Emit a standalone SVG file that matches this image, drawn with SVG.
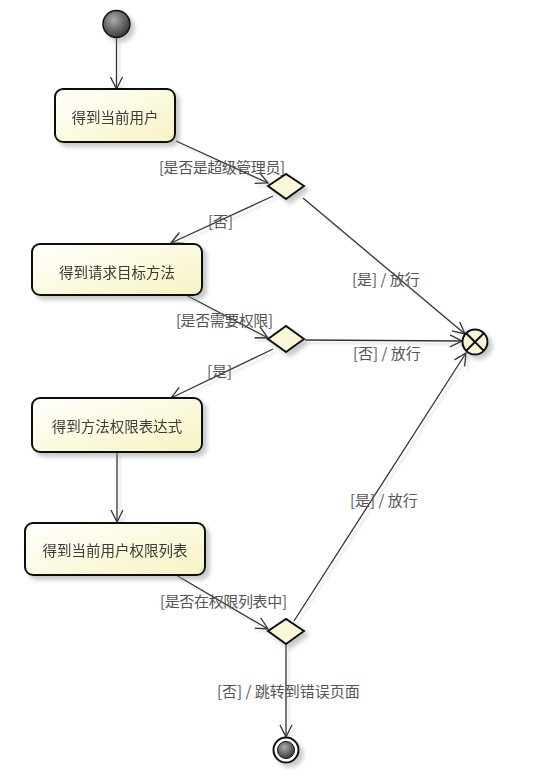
<svg xmlns="http://www.w3.org/2000/svg" width="549" height="779" viewBox="0 0 549 779">
<style>
.box{fill:url(#yel);stroke:#111;stroke-width:2;}
.dia{fill:#f9f7d8;stroke:#111;stroke-width:2;}
.ntxt{font-family:"Noto Sans CJK SC","Noto Sans",sans-serif;font-size:14.5px;fill:#3a3a3a;text-anchor:middle;dominant-baseline:central;}
.lbl{font-family:"Noto Sans CJK SC","Noto Sans",sans-serif;font-size:15px;fill:#555;}
.edge{fill:none;stroke:#333;stroke-width:1.3;marker-end:url(#arr);}
</style>
<defs>
<linearGradient id="yel" x1="0" y1="0" x2="1" y2="1">
<stop offset="0" stop-color="#ffffff"/>
<stop offset="0.5" stop-color="#fcfae0"/>
<stop offset="1" stop-color="#f6f2c2"/>
</linearGradient>
<radialGradient id="gray" cx="0.4" cy="0.35" r="0.7">
<stop offset="0" stop-color="#aaaaaa"/>
<stop offset="1" stop-color="#333333"/>
</radialGradient>
<filter id="sh" x="-20%" y="-20%" width="150%" height="150%">
<feDropShadow dx="4" dy="4" stdDeviation="2" flood-color="#888" flood-opacity="0.45"/>
</filter>
<filter id="lsh" x="-10%" y="-10%" width="130%" height="130%">
<feDropShadow dx="3" dy="3" stdDeviation="1.2" flood-color="#999" flood-opacity="0.35"/>
</filter>
<marker id="arr" viewBox="0 0 14 14" refX="13" refY="7" markerWidth="14" markerHeight="14" orient="auto" markerUnits="userSpaceOnUse">
<path d="M1,1 L13,7 L1,13" fill="none" stroke="#333" stroke-width="1.3"/>
</marker>
</defs>
<rect width="549" height="779" fill="#ffffff"/>

<g id="connectors">
<g filter="url(#lsh)">
<line class="edge" x1="116.5" y1="38" x2="116.5" y2="89"/>
<line class="edge" x1="176" y1="141" x2="268" y2="183"/>
<line class="edge" x1="273" y1="196" x2="171" y2="243"/>
<line class="edge" x1="303" y1="198" x2="465" y2="334"/>
<line class="edge" x1="186" y1="295" x2="268" y2="338"/>
<line class="edge" x1="273" y1="349" x2="171" y2="398"/>
<line class="edge" x1="305" y1="340" x2="462" y2="341"/>
<line class="edge" x1="117" y1="452" x2="117" y2="522"/>
<line class="edge" x1="176" y1="575" x2="268" y2="629"/>
<line class="edge" x1="294" y1="621" x2="466" y2="353"/>
<line class="edge" x1="286" y1="644" x2="286" y2="737"/>
</g>
<text class="lbl" x="159" y="173" textLength="126">[是否是超级管理员]</text>
<text class="lbl" x="208" y="227">[否]</text>
<text class="lbl" x="352" y="285">[是] / 放行</text>
<text class="lbl" x="176" y="326" textLength="97">[是否需要权限]</text>
<text class="lbl" x="353" y="359">[否] / 放行</text>
<text class="lbl" x="207" y="377">[是]</text>
<text class="lbl" x="350" y="506">[是] / 放行</text>
<text class="lbl" x="160" y="607" textLength="127">[是否在权限列表中]</text>
<text class="lbl" x="217" y="697">[否] / 跳转到错误页面</text>
</g>

<g id="start" filter="url(#sh)">
<circle cx="116.5" cy="24" r="13.5" fill="url(#gray)" stroke="#111" stroke-width="1.5"/>
</g>

<g id="node1" filter="url(#sh)">
<rect class="box" x="55" y="89" width="120" height="53" rx="8"/>
<text class="ntxt" x="115" y="116">得到当前用户</text>
</g>

<g id="decision1" filter="url(#sh)">
<polygon class="dia" points="268,186 286,174 304,186 286,199"/>
</g>

<g id="node2" filter="url(#sh)">
<rect class="box" x="32" y="244" width="170" height="51" rx="8"/>
<text class="ntxt" x="117" y="271">得到请求目标方法</text>
</g>

<g id="decision2" filter="url(#sh)">
<polygon class="dia" points="268,339 286,326 304,339 286,352"/>
</g>

<g id="node3" filter="url(#sh)">
<rect class="box" x="32" y="398" width="170" height="54" rx="8"/>
<text class="ntxt" x="117" y="425">得到方法权限表达式</text>
</g>

<g id="node4" filter="url(#sh)">
<rect class="box" x="25" y="523" width="180" height="52" rx="8"/>
<text class="ntxt" x="115" y="549">得到当前用户权限列表</text>
</g>

<g id="decision3" filter="url(#sh)">
<polygon class="dia" points="268,631 286,619 304,631 286,644"/>
</g>

<g id="merge" filter="url(#sh)">
<circle cx="475" cy="342" r="12.5" fill="#f9f7d8" stroke="#111" stroke-width="2"/>
<line x1="466.5" y1="333.5" x2="483.5" y2="350.5" stroke="#111" stroke-width="2"/>
<line x1="483.5" y1="333.5" x2="466.5" y2="350.5" stroke="#111" stroke-width="2"/>
</g>

<g id="final" filter="url(#sh)">
<circle cx="286" cy="750" r="12.5" fill="#ffffff" stroke="#111" stroke-width="2"/>
<circle cx="286" cy="750" r="8.5" fill="url(#gray)" stroke="#111" stroke-width="1"/>
</g>
</svg>
